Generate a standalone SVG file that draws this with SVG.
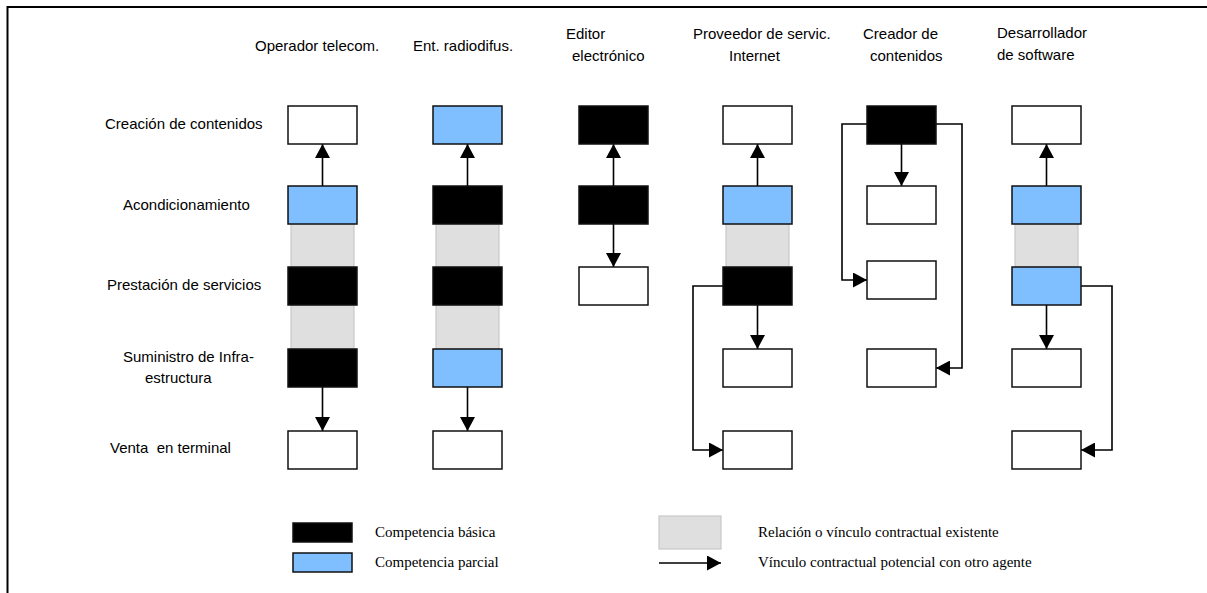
<svg xmlns="http://www.w3.org/2000/svg" width="1207" height="593" viewBox="0 0 1207 593">
<style>
.bg{fill:#fff}
.w{fill:#fff;stroke:#111;stroke-width:1.5}
.b{fill:#000;stroke:#111;stroke-width:1.5}
.p{fill:#80bfff;stroke:#111;stroke-width:1.5}
.g{fill:#dfdfdf;stroke:#c8c8c8;stroke-width:1.2}
.ln{fill:none;stroke:#000;stroke-width:1.6}
.t{font-family:"Liberation Sans",Arial,sans-serif;font-size:15px;fill:#000;white-space:pre}
.s{font-family:"Liberation Serif","Times New Roman",serif;font-size:15px;fill:#000}
</style>
<defs>
<marker id="ah" markerUnits="userSpaceOnUse" markerWidth="14" markerHeight="15" refX="14" refY="7.5" orient="auto">
<path d="M0,0 L14,7.5 L0,15 z" fill="#000"/>
</marker>
</defs>
<rect class="bg" x="0" y="0" width="1207" height="593"/>
<g id="frame">
<line x1="7.5" y1="7" x2="1207" y2="7" stroke="#000" stroke-width="2"/>
<line x1="7.5" y1="6" x2="7.5" y2="593" stroke="#000" stroke-width="2"/>
</g>
<g id="headers">
<text class="t" x="255" y="51">Operador telecom.</text>
<text class="t" x="413" y="51">Ent. radiodifus.</text>
<text class="t" x="566" y="39">Editor</text>
<text class="t" x="572" y="61">electrónico</text>
<text class="t" x="693" y="39">Proveedor de servic.</text>
<text class="t" x="729" y="61">Internet</text>
<text class="t" x="863" y="39">Creador de</text>
<text class="t" x="870" y="61">contenidos</text>
<text class="t" x="997" y="37.5">Desarrollador</text>
<text class="t" x="997" y="60">de software</text>
</g>
<g id="rows">
<text class="t" x="105" y="129">Creación de contenidos</text>
<text class="t" x="123" y="210">Acondicionamiento</text>
<text class="t" x="107" y="290">Prestación de servicios</text>
<text class="t" x="123" y="362">Suministro de Infra-</text>
<text class="t" x="145" y="383">estructura</text>
<text class="t" x="110" y="453">Venta  en terminal</text>
</g>
<g id="relations">
<rect class="g" x="291" y="223" width="63" height="44"/>
<rect class="g" x="291" y="305" width="63" height="44"/>
<rect class="g" x="436" y="223" width="63" height="44"/>
<rect class="g" x="436" y="305" width="63" height="44"/>
<rect class="g" x="726" y="223" width="63" height="44"/>
<rect class="g" x="1015" y="223" width="63" height="44"/>
</g>
<g id="connectors">
<line class="ln" x1="322.5" y1="186" x2="322.5" y2="144" marker-end="url(#ah)"/>
<line class="ln" x1="322.5" y1="387" x2="322.5" y2="431" marker-end="url(#ah)"/>
<line class="ln" x1="467.5" y1="186" x2="467.5" y2="144" marker-end="url(#ah)"/>
<line class="ln" x1="467.5" y1="387" x2="467.5" y2="431" marker-end="url(#ah)"/>
<line class="ln" x1="613.5" y1="186" x2="613.5" y2="144" marker-end="url(#ah)"/>
<line class="ln" x1="613.5" y1="224" x2="613.5" y2="267" marker-end="url(#ah)"/>
<line class="ln" x1="757.5" y1="186" x2="757.5" y2="144" marker-end="url(#ah)"/>
<line class="ln" x1="757.5" y1="305" x2="757.5" y2="349" marker-end="url(#ah)"/>
<polyline class="ln" points="723,286 693,286 693,450 723,450" marker-end="url(#ah)"/>
<line class="ln" x1="901.5" y1="144" x2="901.5" y2="186" marker-end="url(#ah)"/>
<polyline class="ln" points="867,124 842,124 842,280 867,280" marker-end="url(#ah)"/>
<polyline class="ln" points="936,124 962,124 962,368 936,368" marker-end="url(#ah)"/>
<line class="ln" x1="1046.5" y1="186" x2="1046.5" y2="144" marker-end="url(#ah)"/>
<line class="ln" x1="1046.5" y1="305" x2="1046.5" y2="349" marker-end="url(#ah)"/>
<polyline class="ln" points="1081,286 1112,286 1112,450 1081,450" marker-end="url(#ah)"/>
</g>
<g id="col-operador">
<rect id="op-1" class="w" x="288" y="106" width="69" height="38"/>
<rect id="op-2" class="p" x="288" y="186" width="69" height="38"/>
<rect id="op-3" class="b" x="288" y="267" width="69" height="38"/>
<rect id="op-4" class="b" x="288" y="349" width="69" height="38"/>
<rect id="op-5" class="w" x="288" y="431" width="69" height="38"/>
</g>
<g id="col-radiodifus">
<rect id="rd-1" class="p" x="433" y="106" width="69" height="38"/>
<rect id="rd-2" class="b" x="433" y="186" width="69" height="38"/>
<rect id="rd-3" class="b" x="433" y="267" width="69" height="38"/>
<rect id="rd-4" class="p" x="433" y="349" width="69" height="38"/>
<rect id="rd-5" class="w" x="433" y="431" width="69" height="38"/>
</g>
<g id="col-editor">
<rect id="ed-1" class="b" x="579" y="106" width="69" height="38"/>
<rect id="ed-2" class="b" x="579" y="186" width="69" height="38"/>
<rect id="ed-3" class="w" x="579" y="267" width="69" height="38"/>
</g>
<g id="col-isp">
<rect id="isp-1" class="w" x="723" y="106" width="69" height="38"/>
<rect id="isp-2" class="p" x="723" y="186" width="69" height="38"/>
<rect id="isp-3" class="b" x="723" y="267" width="69" height="38"/>
<rect id="isp-4" class="w" x="723" y="349" width="69" height="38"/>
<rect id="isp-5" class="w" x="723" y="431" width="69" height="38"/>
</g>
<g id="col-creador">
<rect id="cr-1" class="b" x="867" y="106" width="69" height="38"/>
<rect id="cr-2" class="w" x="867" y="186" width="69" height="38"/>
<rect id="cr-3" class="w" x="867" y="261" width="69" height="38"/>
<rect id="cr-4" class="w" x="867" y="349" width="69" height="38"/>
</g>
<g id="col-software">
<rect id="sw-1" class="w" x="1012" y="106" width="69" height="38"/>
<rect id="sw-2" class="p" x="1012" y="186" width="69" height="38"/>
<rect id="sw-3" class="p" x="1012" y="267" width="69" height="38"/>
<rect id="sw-4" class="w" x="1012" y="349" width="69" height="38"/>
<rect id="sw-5" class="w" x="1012" y="431" width="69" height="38"/>
</g>
<g id="legend">
<rect class="b" x="293" y="523" width="59" height="19"/>
<text class="s" x="375" y="537">Competencia básica</text>
<rect class="p" x="293" y="553" width="59" height="19"/>
<text class="s" x="375" y="567">Competencia parcial</text>
<rect class="g" x="659" y="516" width="62" height="33"/>
<text class="s" x="758" y="537">Relación o vínculo contractual existente</text>
<line class="ln" x1="659" y1="563" x2="721" y2="563" marker-end="url(#ah)"/>
<text class="s" x="758" y="567">Vínculo contractual potencial con otro agente</text>
</g>
</svg>
